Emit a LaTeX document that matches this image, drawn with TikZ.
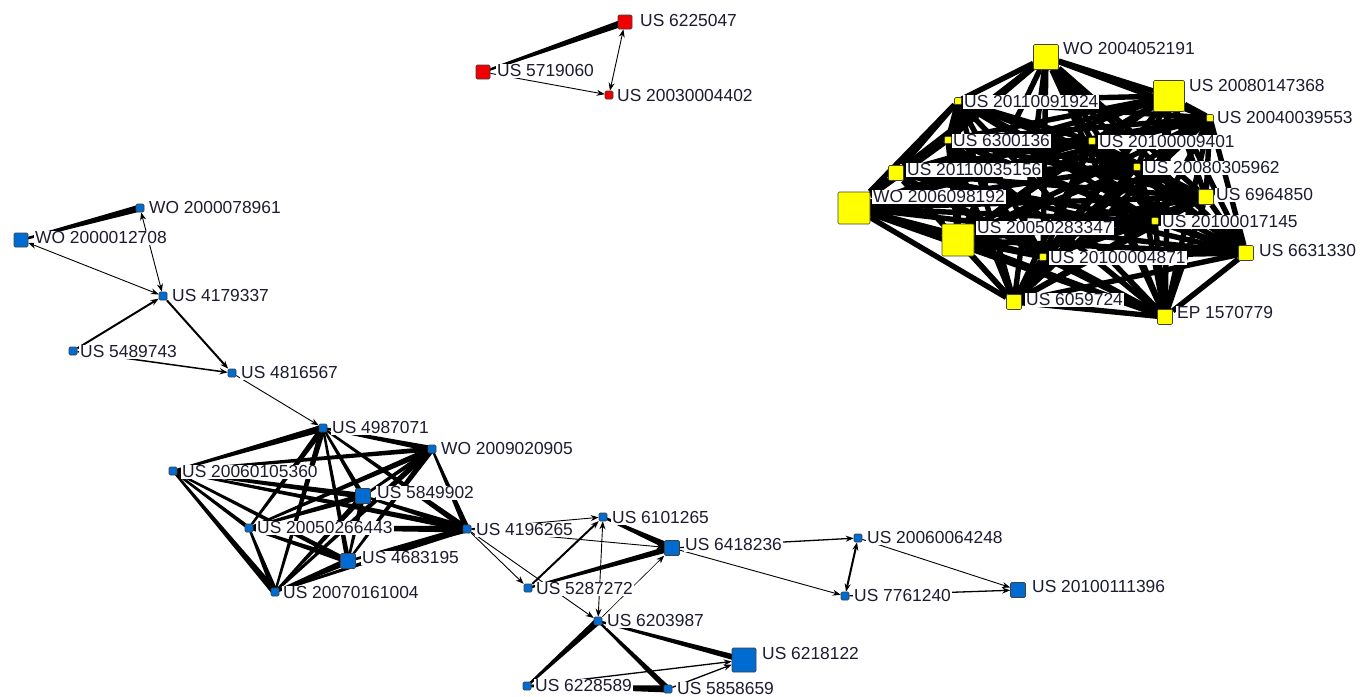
\documentclass[tikz,border=0pt]{standalone}
\usepackage{fontspec}
\setmainfont{Liberation Sans}
\usetikzlibrary{calc,arrows.meta}
\definecolor{pblue}{RGB}{0,108,210}
\definecolor{pred}{RGB}{240,0,0}
\definecolor{pyel}{RGB}{255,255,0}
\definecolor{ink}{RGB}{28,28,48}
\pgfdeclarelayer{edges}
\pgfsetlayers{edges,main}
% tapered citation edge: narrow at the citing end, #3 half-width at the cited end
\newcommand\taper[3]{%
  \fill[black] ($(#1)!1.1pt!90:(#2)$) -- ($(#2)!#3!-90:(#1)$)
     -- ($(#2)!#3!90:(#1)$) -- ($(#1)!1.1pt!-90:(#2)$) -- cycle;}
\begin{document}
\begin{tikzpicture}[x=1pt,y=-1pt,
  pat/.style={rectangle, draw=black!75, line width=0.6pt, rounded corners=1.2pt,
              inner sep=0pt, minimum size=#1},
  pb/.style={pat=#1, fill=pblue},
  pr/.style={pat=#1, fill=pred},
  py/.style={pat=#1, fill=pyel},
  lbl/.style={anchor=west, fill=white, inner sep=1pt, text=ink,
              font=\fontsize{17.4}{19}\selectfont},
  cite/.style={line width=0.9pt, -{Stealth[length=8pt,width=6pt]}},
  both/.style={line width=0.9pt, {Stealth[length=8pt,width=6pt]}-{Stealth[length=8pt,width=6pt]}},
  mesh/.style={line width=5.4pt, black}
]
\useasboundingbox (0,0) rectangle (1370,696);

% ---------- patents (squares) ----------
% red family
\node[pr=14] (r2) at (625,22) {};
\node[pr=14] (r1) at (483,72) {};
\node[pr=8]  (r3) at (609,95) {};

% blue family, upper chain
\node[pb=8]  (wo78) at (140,208) {};
\node[pb=14] (wo12) at (21,240) {};
\node[pb=8]  (u4179) at (163,296) {};
\node[pb=8]  (u5489) at (73,351) {};
\node[pb=8]  (u4816) at (232,373) {};

% blue family, dense core
\node[pb=8]  (a)  at (323,428) {};
\node[pb=8]  (bw) at (432,449) {};
\node[pb=8]  (c)  at (173,471) {};
\node[pb=15] (d)  at (363,496) {};
\node[pb=8]  (e)  at (249,528) {};
\node[pb=8]  (f)  at (467,529) {};
\node[pb=15] (g)  at (348,561) {};
\node[pb=8]  (h)  at (275,592) {};

% blue family, lower chain
\node[pb=8]  (p1) at (603,517) {};
\node[pb=15] (p2) at (672,548) {};
\node[pb=8]  (p3) at (528,588) {};
\node[pb=8]  (p4) at (598,621) {};
\node[pb=24] (p5) at (744,660) {};
\node[pb=8]  (p6) at (527,686) {};
\node[pb=8]  (p7) at (668,689) {};
\node[pb=8]  (p8) at (858,538) {};
\node[pb=8]  (p9) at (845,596) {};
\node[pb=15] (p10) at (1018,590) {};

% yellow family
\node[py=25] (y1)  at (1046,57) {};
\node[py=31] (y2)  at (1169,96) {};
\node[py=7]  (y3)  at (958,101) {};
\node[py=7]  (y4)  at (1210,118) {};
\node[py=7]  (y5)  at (948,140) {};
\node[py=7]  (y6)  at (1092,141) {};
\node[py=15] (y7)  at (896,173) {};
\node[py=7]  (y8)  at (1137,167) {};
\node[py=32] (y9)  at (854,208) {};
\node[py=15] (y10) at (1206,197) {};
\node[py=7]  (y11) at (1155,221) {};
\node[py=32] (y12) at (958,240) {};
\node[py=7]  (y13) at (1043,257) {};
\node[py=15] (y14) at (1246,253) {};
\node[py=15] (y15) at (1014,302) {};
\node[py=15] (y16) at (1165,317) {};

% ---------- citations ----------
\begin{pgfonlayer}{edges}
\fill[white] (0,0) rectangle (1370,696);

% red
\taper{r1}{r2}{3.5pt}
\draw[cite] (r1) -- (r3);
\draw[both] (r2) -- (r3);

% blue, upper chain
\taper{wo12}{wo78}{3.5pt}
\draw[both] (u4179) -- (wo78);
\draw[both] (wo12) -- (u4179);
\draw[cite, line width=2pt] (u5489) -- (u4179);
\draw[cite, line width=2pt] (u4179) -- (u4816);
\draw[cite, line width=1.5pt] (u5489) -- (u4816);
\draw[cite] (u4816) -- (a);

% blue, dense core
\taper{c}{a}{3.5pt}
\taper{c}{bw}{2.5pt}
\taper{c}{d}{3pt}
\taper{c}{f}{3pt}
\taper{c}{e}{2pt}
\taper{c}{h}{3.5pt}
\taper{c}{g}{2.5pt}
\taper{a}{bw}{3pt}
\taper{a}{d}{2.5pt}
\taper{a}{f}{3pt}
\taper{e}{a}{3pt}
\taper{a}{g}{2.5pt}
\taper{h}{a}{3pt}
\taper{e}{bw}{3pt}
\taper{h}{bw}{3pt}
\taper{d}{bw}{2.5pt}
\taper{g}{bw}{3pt}
\taper{bw}{f}{3pt}
\taper{e}{d}{3pt}
\taper{h}{d}{3pt}
\taper{g}{d}{2.5pt}
\taper{d}{f}{3.5pt}
\taper{e}{f}{3.5pt}
\taper{g}{f}{3.5pt}
\taper{h}{f}{2.5pt}
\taper{e}{g}{3pt}
\taper{e}{h}{3pt}
\taper{h}{g}{3.5pt}

% blue, lower chain
\draw[cite] (f) -- (p1);
\draw[cite] (f) -- (p2);
\draw[cite] (f) -- (p3);
\draw[cite] (f) -- (p4);
\draw[cite, line width=2pt] (p3) -- (p1);
\taper{p3}{p2}{3pt}
\draw[both] (p4) -- (p1);
\draw[cite, line width=0.6pt] (p4) -- (p2);
\taper{p1}{p2}{3.5pt}
\taper{p4}{p5}{3pt}
\taper{p6}{p4}{3.5pt}
\taper{p4}{p7}{3pt}
\taper{p6}{p7}{3.5pt}
\draw[cite, line width=1.3pt] (p6) -- (p5);
\draw[cite, line width=1.3pt] (p7) -- (p5);
\draw[cite, line width=1.3pt] (p2) -- (p8);
\draw[cite] (p2) -- (p9);
\draw[both, line width=2pt] (p8) -- (p9);
\draw[cite] (p8) -- (p10);
\draw[cite, line width=1.3pt] (p9) -- (p10);

% yellow: every pair cites each other
\foreach \i in {1,...,15} {
  \pgfmathtruncatemacro\k{\i+1}
  \foreach \j in {\k,...,16} { \draw[mesh] (y\i) -- (y\j); }
}
\end{pgfonlayer}

% ---------- labels ----------
\node[lbl] (l-r2) at (639,21) {US 6225047};
\node[lbl] (l-r1) at (496,71) {US 5719060};
\node[lbl] (l-r3) at (616,96) {US 20030004402};

\node[lbl] (l-wo78) at (148,208) {WO 2000078961};
\node[lbl] (l-wo12) at (34,238) {WO 2000012708};
\node[lbl] (l-u4179) at (171,296) {US 4179337};
\node[lbl] (l-u5489) at (79,352) {US 5489743};
\node[lbl] (l-u4816) at (240,373) {US 4816567};

\node[lbl] (l-a)  at (331,428) {US 4987071};
\node[lbl] (l-bw) at (440,449) {WO 2009020905};
\node[lbl] (l-c)  at (181,472) {US 20060105360};
\node[lbl] (l-d)  at (376,493) {US 5849902};
\node[lbl] (l-e)  at (256,528) {US 20050266443};
\node[lbl] (l-f)  at (475,530) {US 4196265};
\node[lbl] (l-g)  at (361,558) {US 4683195};
\node[lbl] (l-h)  at (282,593) {US 20070161004};

\node[lbl] (l-p1) at (611,518) {US 6101265};
\node[lbl] (l-p2) at (684,545) {US 6418236};
\node[lbl] (l-p3) at (535,589) {US 5287272};
\node[lbl] (l-p4) at (606,621) {US 6203987};
\node[lbl] (l-p5) at (761,654) {US 6218122};
\node[lbl] (l-p6) at (534,686) {US 6228589};
\node[lbl] (l-p7) at (676,689) {US 5858659};
\node[lbl] (l-p8) at (866,538) {US 20060064248};
\node[lbl] (l-p9) at (853,596) {US 7761240};
\node[lbl] (l-p10) at (1031,587) {US 20100111396};

\node[lbl] (l-y1)  at (1062,49)  {WO 2004052191};
\node[lbl] (l-y2)  at (1188,86)  {US 20080147368};
\node[lbl] (l-y3)  at (963,102)  {US 20110091924};
\node[lbl] (l-y4)  at (1216,118) {US 20040039553};
\node[lbl] (l-y5)  at (952,141)  {US 6300136};
\node[lbl] (l-y6)  at (1098,142) {US 20100009401};
\node[lbl] (l-y7)  at (906,170)  {US 20110035156};
\node[lbl] (l-y8)  at (1143,168) {US 20080305962};
\node[lbl] (l-y9)  at (872,197)  {WO 2006098192};
\node[lbl] (l-y10) at (1215,195) {US 6964850};
\node[lbl] (l-y11) at (1161,222) {US 20100017145};
\node[lbl] (l-y12) at (976,228)  {US 20050283347};
\node[lbl] (l-y13) at (1049,258) {US 20100004871};
\node[lbl] (l-y14) at (1258,251) {US 6631330};
\node[lbl] (l-y15) at (1025,300) {US 6059724};
\node[lbl] (l-y16) at (1176,313) {EP 1570779};
\end{tikzpicture}
\end{document}
